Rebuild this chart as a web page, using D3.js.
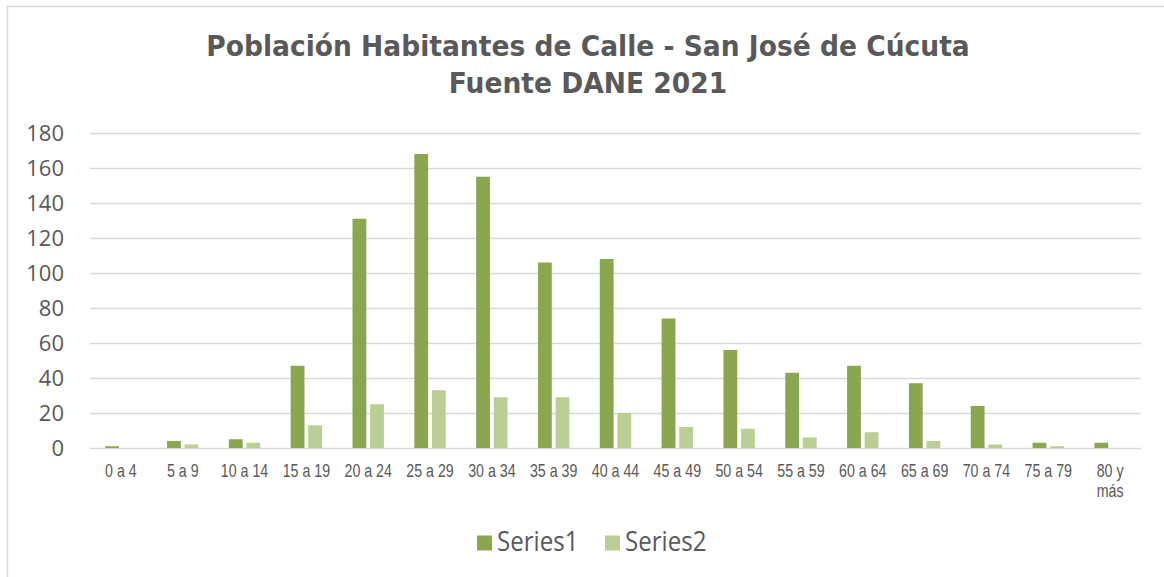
<!DOCTYPE html>
<html>
<head>
<meta charset="utf-8">
<script src="https://cdn.jsdelivr.net/npm/d3@7"></script>
<style>
  html, body { margin: 0; padding: 0; background: #fff; }
  svg { display: block; }
</style>
</head>
<body>
<svg id="chart" width="1164" height="577"></svg>
<script>
// Age groups and counts per series
const categories = ["0 a 4", "5 a 9", "10 a 14", "15 a 19", "20 a 24", "25 a 29", "30 a 34",
  "35 a 39", "40 a 44", "45 a 49", "50 a 54", "55 a 59", "60 a 64", "65 a 69", "70 a 74",
  "75 a 79", "80 y más"];
const series1 = [1, 4, 5, 47, 131, 168, 155, 106, 108, 74, 56, 43, 47, 37, 24, 3, 3];
const series2 = [0, 2, 3, 13, 25, 33, 29, 29, 20, 12, 11, 6, 9, 4, 2, 1, 0];
const seriesNames = ["Series1", "Series2"];
const yTicks = [0, 20, 40, 60, 80, 100, 120, 140, 160, 180];
const titleLines = ["Población Habitantes de Calle - San José de Cúcuta", "Fuente DANE 2021"];

const colors = { Series1: "#8aa64e", Series2: "#bacf95" };
const textColor = "#595959";

const svg = d3.select("#chart");
const plot = { left: 90, right: 1141, top: 133, bottom: 448 };

// chart frame
svg.append("rect")
  .attr("x", 7.5).attr("y", 6.5)
  .attr("width", 1170).attr("height", 600)
  .attr("fill", "#fff").attr("stroke", "#d9d9d9").attr("stroke-width", 1.5);

// title (two lines, slightly condensed)
const title = svg.append("text")
  .attr("transform", "translate(588,0) scale(0.948,1)")
  .attr("text-anchor", "middle")
  .attr("font-family", "DejaVu Sans")
  .attr("font-weight", "bold")
  .attr("font-size", 28)
  .attr("fill", textColor);
titleLines.forEach((t, i) => {
  title.append("tspan").attr("x", 0).attr("y", 56 + i * 37).text(t);
});

const x = d3.scaleBand().domain(categories).range([plot.left, plot.right]).padding(0);
const x1 = d3.scaleBand().domain(seriesNames).range([0, x.bandwidth()])
  .paddingInner(0.216).paddingOuter(0.864);
const y = d3.scaleLinear().domain([0, 180]).range([plot.bottom, plot.top]);

// horizontal gridlines and value labels
const yAxis = d3.axisLeft(y).tickValues(yTicks).tickSize(-(plot.right - plot.left)).tickPadding(26);
const gy = svg.append("g").attr("transform", `translate(${plot.left},0)`).call(yAxis);
gy.select(".domain").remove();
gy.selectAll(".tick line").attr("stroke", "#d9d9d9").attr("stroke-width", 1.5);
gy.selectAll(".tick text")
  .attr("font-family", "Open Sans")
  .attr("font-size", 22)
  .attr("fill", textColor);

// clustered bars
const data = categories.map((c, i) => ({ cat: c, values: [
  { key: "Series1", value: series1[i] },
  { key: "Series2", value: series2[i] }
]}));
const groups = svg.append("g").selectAll("g").data(data).join("g")
  .attr("transform", d => `translate(${x(d.cat)},0)`);
groups.selectAll("rect").data(d => d.values).join("rect")
  .attr("x", d => x1(d.key))
  .attr("width", x1.bandwidth())
  .attr("y", d => y(d.value))
  .attr("height", d => y(0) - y(d.value))
  .attr("fill", d => colors[d.key]);

// category labels (narrow)
const xAxis = d3.axisBottom(x).tickSize(0).tickPadding(16);
const gx = svg.append("g").attr("transform", `translate(0,${plot.bottom})`).call(xAxis);
gx.select(".domain").remove();
gx.selectAll(".tick text")
  .attr("font-family", "Liberation Sans")
  .attr("font-size", 18)
  .attr("transform", "scale(0.79,1)")
  .attr("fill", textColor)
  .each(function(d) {
    const t = d3.select(this);
    if (d === "80 y más") {
      t.text(null);
      t.append("tspan").attr("x", 0).attr("dy", "0.71em").text("80 y");
      t.append("tspan").attr("x", 0).attr("dy", "1.11em").text("más");
    }
  });

// legend
const legend = svg.append("g");
const legendX = [477, 605];
seriesNames.forEach((s, i) => {
  legend.append("rect").attr("x", legendX[i]).attr("y", 535.5).attr("width", 15).attr("height", 15)
    .attr("fill", colors[s]);
  legend.append("text")
    .attr("transform", `translate(${legendX[i] + 20},551) scale(0.86,1)`)
    .attr("font-family", "Open Sans").attr("font-size", 28).attr("fill", textColor)
    .text(s);
});
</script>
</body>
</html>
